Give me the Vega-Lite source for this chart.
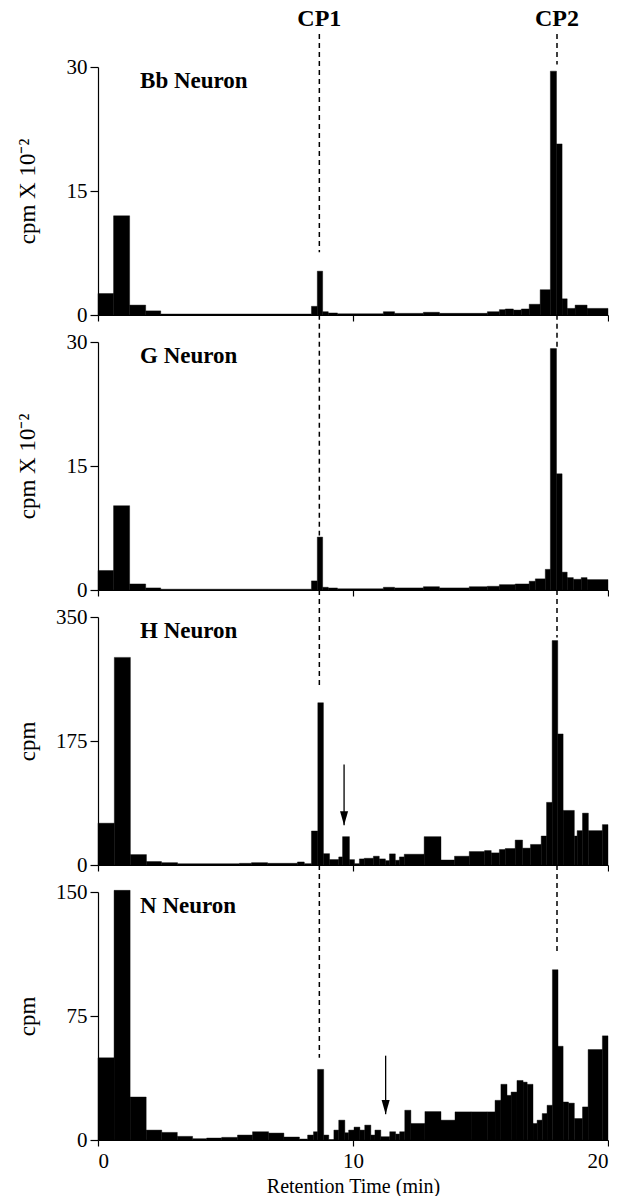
{
  "$schema": "https://vega.github.io/schema/vega-lite/v6.json",
  "background": "white",
  "padding": {"left": 16, "top": 6, "right": 0, "bottom": 0},
  "spacing": 27,
  "bounds": "flush",
  "config": {
    "view": {"stroke": null},
    "font": "Liberation Serif",
    "axis": {
      "grid": false,
      "domainColor": "black",
      "tickColor": "black",
      "labelColor": "black",
      "titleColor": "black",
      "labelFont": "Liberation Serif",
      "titleFont": "Liberation Serif",
      "labelFontSize": 21,
      "titleFontSize": 23,
      "titleFontWeight": "normal",
      "domainWidth": 1.2,
      "tickWidth": 1.2
    }
  },
  "datasets": {
    "bars": [
      {"panel": "Bb", "t0": 0, "t1": 0.61, "v": 2.6},
      {"panel": "Bb", "t0": 0.61, "t1": 1.24, "v": 12.0},
      {"panel": "Bb", "t0": 1.24, "t1": 1.87, "v": 1.2},
      {"panel": "Bb", "t0": 1.87, "t1": 2.46, "v": 0.5},
      {"panel": "Bb", "t0": 2.46, "t1": 8.37, "v": 0.12},
      {"panel": "Bb", "t0": 8.37, "t1": 8.6, "v": 1.05},
      {"panel": "Bb", "t0": 8.6, "t1": 8.81, "v": 5.3},
      {"panel": "Bb", "t0": 8.81, "t1": 9.03, "v": 0.4},
      {"panel": "Bb", "t0": 9.03, "t1": 9.39, "v": 0.25},
      {"panel": "Bb", "t0": 9.39, "t1": 11.19, "v": 0.15},
      {"panel": "Bb", "t0": 11.19, "t1": 11.63, "v": 0.4},
      {"panel": "Bb", "t0": 11.63, "t1": 12.76, "v": 0.2},
      {"panel": "Bb", "t0": 12.76, "t1": 13.39, "v": 0.33},
      {"panel": "Bb", "t0": 13.39, "t1": 15.27, "v": 0.2},
      {"panel": "Bb", "t0": 15.27, "t1": 15.74, "v": 0.4},
      {"panel": "Bb", "t0": 15.74, "t1": 15.97, "v": 0.65},
      {"panel": "Bb", "t0": 15.97, "t1": 16.29, "v": 0.73},
      {"panel": "Bb", "t0": 16.29, "t1": 16.6, "v": 0.6},
      {"panel": "Bb", "t0": 16.6, "t1": 16.91, "v": 0.73},
      {"panel": "Bb", "t0": 16.91, "t1": 17.34, "v": 1.3},
      {"panel": "Bb", "t0": 17.34, "t1": 17.74, "v": 3.06},
      {"panel": "Bb", "t0": 17.74, "t1": 17.98, "v": 29.5},
      {"panel": "Bb", "t0": 17.98, "t1": 18.2, "v": 20.7},
      {"panel": "Bb", "t0": 18.2, "t1": 18.4, "v": 1.96},
      {"panel": "Bb", "t0": 18.4, "t1": 18.71, "v": 0.8},
      {"panel": "Bb", "t0": 18.71, "t1": 19.18, "v": 1.2},
      {"panel": "Bb", "t0": 19.18, "t1": 20, "v": 0.8},

      {"panel": "G", "t0": 0, "t1": 0.61, "v": 2.36},
      {"panel": "G", "t0": 0.61, "t1": 1.24, "v": 10.2},
      {"panel": "G", "t0": 1.24, "t1": 1.87, "v": 0.73},
      {"panel": "G", "t0": 1.87, "t1": 2.46, "v": 0.25},
      {"panel": "G", "t0": 2.46, "t1": 8.37, "v": 0.1},
      {"panel": "G", "t0": 8.37, "t1": 8.6, "v": 1.1},
      {"panel": "G", "t0": 8.6, "t1": 8.81, "v": 6.4},
      {"panel": "G", "t0": 8.81, "t1": 9.03, "v": 0.33},
      {"panel": "G", "t0": 9.03, "t1": 9.39, "v": 0.25},
      {"panel": "G", "t0": 9.39, "t1": 11.19, "v": 0.15},
      {"panel": "G", "t0": 11.19, "t1": 11.63, "v": 0.33},
      {"panel": "G", "t0": 11.63, "t1": 12.76, "v": 0.25},
      {"panel": "G", "t0": 12.76, "t1": 13.39, "v": 0.4},
      {"panel": "G", "t0": 13.39, "t1": 14.56, "v": 0.25},
      {"panel": "G", "t0": 14.56, "t1": 15.27, "v": 0.4},
      {"panel": "G", "t0": 15.27, "t1": 15.74, "v": 0.45},
      {"panel": "G", "t0": 15.74, "t1": 16.36, "v": 0.65},
      {"panel": "G", "t0": 16.36, "t1": 16.91, "v": 0.73},
      {"panel": "G", "t0": 16.91, "t1": 17.15, "v": 1.06},
      {"panel": "G", "t0": 17.15, "t1": 17.54, "v": 1.35},
      {"panel": "G", "t0": 17.54, "t1": 17.74, "v": 2.5},
      {"panel": "G", "t0": 17.74, "t1": 17.98, "v": 29.2},
      {"panel": "G", "t0": 17.98, "t1": 18.2, "v": 14.06},
      {"panel": "G", "t0": 18.2, "t1": 18.4, "v": 2.16},
      {"panel": "G", "t0": 18.4, "t1": 18.64, "v": 1.5},
      {"panel": "G", "t0": 18.64, "t1": 18.95, "v": 1.3},
      {"panel": "G", "t0": 18.95, "t1": 19.18, "v": 1.5},
      {"panel": "G", "t0": 19.18, "t1": 20, "v": 1.26},

      {"panel": "H", "t0": 0, "t1": 0.64, "v": 59},
      {"panel": "H", "t0": 0.64, "t1": 1.27, "v": 293},
      {"panel": "H", "t0": 1.27, "t1": 1.9, "v": 14.7},
      {"panel": "H", "t0": 1.9, "t1": 2.49, "v": 4.8},
      {"panel": "H", "t0": 2.49, "t1": 3.12, "v": 3.3},
      {"panel": "H", "t0": 3.12, "t1": 5.55, "v": 1.9},
      {"panel": "H", "t0": 5.55, "t1": 6.02, "v": 2.4},
      {"panel": "H", "t0": 6.02, "t1": 6.65, "v": 3.3},
      {"panel": "H", "t0": 6.65, "t1": 7.82, "v": 2.4},
      {"panel": "H", "t0": 7.82, "t1": 8.09, "v": 4.3},
      {"panel": "H", "t0": 8.09, "t1": 8.37, "v": 1.9},
      {"panel": "H", "t0": 8.37, "t1": 8.62, "v": 48},
      {"panel": "H", "t0": 8.62, "t1": 8.84, "v": 229},
      {"panel": "H", "t0": 8.84, "t1": 9.08, "v": 16},
      {"panel": "H", "t0": 9.08, "t1": 9.44, "v": 7.6},
      {"panel": "H", "t0": 9.44, "t1": 9.59, "v": 11.4},
      {"panel": "H", "t0": 9.59, "t1": 9.86, "v": 40},
      {"panel": "H", "t0": 9.86, "t1": 10.06, "v": 7.6},
      {"panel": "H", "t0": 10.06, "t1": 10.25, "v": 1.9},
      {"panel": "H", "t0": 10.25, "t1": 10.44, "v": 8.6},
      {"panel": "H", "t0": 10.44, "t1": 10.8, "v": 9.5},
      {"panel": "H", "t0": 10.8, "t1": 11.03, "v": 12.4},
      {"panel": "H", "t0": 11.03, "t1": 11.27, "v": 8.6},
      {"panel": "H", "t0": 11.27, "t1": 11.43, "v": 6.2},
      {"panel": "H", "t0": 11.43, "t1": 11.66, "v": 15.7},
      {"panel": "H", "t0": 11.66, "t1": 11.82, "v": 6.7},
      {"panel": "H", "t0": 11.82, "t1": 12.01, "v": 11.4},
      {"panel": "H", "t0": 12.01, "t1": 12.79, "v": 15.2},
      {"panel": "H", "t0": 12.79, "t1": 13.45, "v": 40},
      {"panel": "H", "t0": 13.45, "t1": 13.98, "v": 7.1},
      {"panel": "H", "t0": 13.98, "t1": 14.56, "v": 12.4},
      {"panel": "H", "t0": 14.56, "t1": 15.16, "v": 19},
      {"panel": "H", "t0": 15.16, "t1": 15.42, "v": 20.4},
      {"panel": "H", "t0": 15.42, "t1": 15.74, "v": 17.1},
      {"panel": "H", "t0": 15.74, "t1": 15.97, "v": 21.9},
      {"panel": "H", "t0": 15.97, "t1": 16.36, "v": 23.3},
      {"panel": "H", "t0": 16.36, "t1": 16.65, "v": 35.2},
      {"panel": "H", "t0": 16.65, "t1": 16.96, "v": 23.8},
      {"panel": "H", "t0": 16.96, "t1": 17.38, "v": 29},
      {"panel": "H", "t0": 17.38, "t1": 17.59, "v": 40.9},
      {"panel": "H", "t0": 17.59, "t1": 17.81, "v": 88.4},
      {"panel": "H", "t0": 17.81, "t1": 18.03, "v": 316.7},
      {"panel": "H", "t0": 18.03, "t1": 18.24, "v": 185},
      {"panel": "H", "t0": 18.24, "t1": 18.68, "v": 77},
      {"panel": "H", "t0": 18.68, "t1": 18.79, "v": 40.9},
      {"panel": "H", "t0": 18.79, "t1": 19.0, "v": 48.5},
      {"panel": "H", "t0": 19.0, "t1": 19.23, "v": 73.2},
      {"panel": "H", "t0": 19.23, "t1": 19.78, "v": 48.5},
      {"panel": "H", "t0": 19.78, "t1": 20, "v": 57},

      {"panel": "N", "t0": 0, "t1": 0.63, "v": 49.7},
      {"panel": "N", "t0": 0.63, "t1": 1.26, "v": 151},
      {"panel": "N", "t0": 1.26, "t1": 1.89, "v": 26},
      {"panel": "N", "t0": 1.89, "t1": 2.5, "v": 6},
      {"panel": "N", "t0": 2.5, "t1": 3.11, "v": 4.6},
      {"panel": "N", "t0": 3.11, "t1": 3.71, "v": 2.2},
      {"panel": "N", "t0": 3.71, "t1": 4.26, "v": 0.8},
      {"panel": "N", "t0": 4.26, "t1": 4.85, "v": 1.2},
      {"panel": "N", "t0": 4.85, "t1": 5.47, "v": 1.6},
      {"panel": "N", "t0": 5.47, "t1": 6.06, "v": 3},
      {"panel": "N", "t0": 6.06, "t1": 6.69, "v": 5},
      {"panel": "N", "t0": 6.69, "t1": 7.29, "v": 4.2},
      {"panel": "N", "t0": 7.29, "t1": 7.9, "v": 1.8},
      {"panel": "N", "t0": 7.9, "t1": 8.22, "v": 0.6},
      {"panel": "N", "t0": 8.22, "t1": 8.45, "v": 3},
      {"panel": "N", "t0": 8.45, "t1": 8.61, "v": 5},
      {"panel": "N", "t0": 8.61, "t1": 8.85, "v": 42.7},
      {"panel": "N", "t0": 8.85, "t1": 9.05, "v": 3},
      {"panel": "N", "t0": 9.05, "t1": 9.25, "v": 0.3},
      {"panel": "N", "t0": 9.25, "t1": 9.44, "v": 6},
      {"panel": "N", "t0": 9.44, "t1": 9.68, "v": 12},
      {"panel": "N", "t0": 9.68, "t1": 9.83, "v": 4.4},
      {"panel": "N", "t0": 9.83, "t1": 10.04, "v": 6},
      {"panel": "N", "t0": 10.04, "t1": 10.27, "v": 7.8},
      {"panel": "N", "t0": 10.27, "t1": 10.46, "v": 6},
      {"panel": "N", "t0": 10.46, "t1": 10.7, "v": 9},
      {"panel": "N", "t0": 10.7, "t1": 10.86, "v": 3},
      {"panel": "N", "t0": 10.86, "t1": 11.09, "v": 6},
      {"panel": "N", "t0": 11.09, "t1": 11.44, "v": 2},
      {"panel": "N", "t0": 11.44, "t1": 11.67, "v": 5},
      {"panel": "N", "t0": 11.67, "t1": 11.83, "v": 3.6},
      {"panel": "N", "t0": 11.83, "t1": 12.03, "v": 5},
      {"panel": "N", "t0": 12.03, "t1": 12.27, "v": 18},
      {"panel": "N", "t0": 12.27, "t1": 12.82, "v": 10},
      {"panel": "N", "t0": 12.82, "t1": 13.45, "v": 17.2},
      {"panel": "N", "t0": 13.45, "t1": 14.0, "v": 12},
      {"panel": "N", "t0": 14.0, "t1": 14.63, "v": 17},
      {"panel": "N", "t0": 14.63, "t1": 15.26, "v": 17},
      {"panel": "N", "t0": 15.26, "t1": 15.57, "v": 17},
      {"panel": "N", "t0": 15.57, "t1": 15.8, "v": 24},
      {"panel": "N", "t0": 15.8, "t1": 16.04, "v": 33.7},
      {"panel": "N", "t0": 16.04, "t1": 16.2, "v": 27},
      {"panel": "N", "t0": 16.2, "t1": 16.43, "v": 29},
      {"panel": "N", "t0": 16.43, "t1": 16.67, "v": 36},
      {"panel": "N", "t0": 16.67, "t1": 16.83, "v": 35},
      {"panel": "N", "t0": 16.83, "t1": 17.06, "v": 33.7},
      {"panel": "N", "t0": 17.06, "t1": 17.22, "v": 10},
      {"panel": "N", "t0": 17.22, "t1": 17.42, "v": 12},
      {"panel": "N", "t0": 17.42, "t1": 17.61, "v": 16},
      {"panel": "N", "t0": 17.61, "t1": 17.82, "v": 21},
      {"panel": "N", "t0": 17.82, "t1": 18.04, "v": 103},
      {"panel": "N", "t0": 18.04, "t1": 18.24, "v": 56.7},
      {"panel": "N", "t0": 18.24, "t1": 18.45, "v": 23},
      {"panel": "N", "t0": 18.45, "t1": 18.68, "v": 22.3},
      {"panel": "N", "t0": 18.68, "t1": 19.0, "v": 13},
      {"panel": "N", "t0": 19.0, "t1": 19.22, "v": 20},
      {"panel": "N", "t0": 19.22, "t1": 19.78, "v": 54.7},
      {"panel": "N", "t0": 19.78, "t1": 20, "v": 63}
    ],
    "cp": [
      {"panel": "Bb", "cp": "CP1", "t": 8.68, "top": 34.0, "bottom": 7.6},
      {"panel": "Bb", "cp": "CP2", "t": 18.0, "top": 34.0, "bottom": 30.3},
      {"panel": "G", "cp": "CP1", "t": 8.68, "top": 33.3, "bottom": 6.6},
      {"panel": "G", "cp": "CP2", "t": 18.0, "top": 33.3, "bottom": 29.4},
      {"panel": "H", "cp": "CP1", "t": 8.68, "top": 388, "bottom": 250},
      {"panel": "H", "cp": "CP2", "t": 18.0, "top": 388, "bottom": 321},
      {"panel": "N", "cp": "CP1", "t": 8.68, "top": 166.4, "bottom": 49.7},
      {"panel": "N", "cp": "CP2", "t": 18.0, "top": 166.4, "bottom": 112}
    ],
    "arrows": [
      {"panel": "H", "t": 9.65, "top": 141.7, "tip": 56},
      {"panel": "N", "t": 11.28, "top": 51, "tip": 15.6}
    ],
    "labels": [
      {"panel": "Bb", "label": "Bb Neuron"},
      {"panel": "G", "label": "G Neuron"},
      {"panel": "H", "label": "H Neuron"},
      {"panel": "N", "label": "N Neuron"}
    ]
  },
  "vconcat": [
    {
      "width": 510, "height": 248,
      "layer": [
        {
          "data": {"name": "bars"},
          "transform": [{"filter": "datum.panel === 'Bb'"}],
          "mark": {"type": "bar", "color": "black", "stroke": "black", "strokeWidth": 0.4},
          "encoding": {
            "x": {"field": "t0", "type": "quantitative", "scale": {"domain": [0, 20], "nice": false},
                  "axis": {"values": [0, 10, 20], "labels": false, "title": null, "tickSize": 6}},
            "x2": {"field": "t1"},
            "y": {"field": "v", "type": "quantitative", "scale": {"domain": [0, 30], "nice": false},
                  "axis": {"values": [0, 15, 30], "title": "cpm X 10⁻²", "tickSize": 8, "labelPadding": 3, "minExtent": 55, "maxExtent": 55, "titlePadding": 4}},
            "y2": {"datum": 0}
          }
        },
        {
          "data": {"name": "cp"},
          "transform": [{"filter": "datum.panel === 'Bb'"}],
          "mark": {"type": "rule", "color": "black", "strokeWidth": 1.5, "strokeDash": [5, 4]},
          "encoding": {"x": {"field": "t", "type": "quantitative"}, "y": {"field": "top", "type": "quantitative"}, "y2": {"field": "bottom"}}
        },
        {
          "data": {"name": "cp"},
          "transform": [{"filter": "datum.panel === 'Bb'"}],
          "mark": {"type": "text", "color": "black", "font": "Liberation Serif", "fontSize": 24, "fontWeight": "bold", "baseline": "alphabetic", "dy": -8},
          "encoding": {"x": {"field": "t", "type": "quantitative"}, "y": {"field": "top", "type": "quantitative"}, "text": {"field": "cp"}}
        },
        {
          "data": {"name": "labels"},
          "transform": [{"filter": "datum.panel === 'Bb'"}],
          "mark": {"type": "text", "align": "left", "baseline": "middle", "font": "Liberation Serif", "fontSize": 23, "fontWeight": "bold", "color": "black"},
          "encoding": {"x": {"datum": 1.65}, "y": {"datum": 28.3}, "text": {"field": "label"}}
        }
      ]
    },
    {
      "width": 510, "height": 248,
      "layer": [
        {
          "data": {"name": "bars"},
          "transform": [{"filter": "datum.panel === 'G'"}],
          "mark": {"type": "bar", "color": "black", "stroke": "black", "strokeWidth": 0.4},
          "encoding": {
            "x": {"field": "t0", "type": "quantitative", "scale": {"domain": [0, 20], "nice": false},
                  "axis": {"values": [0, 10, 20], "labels": false, "title": null, "tickSize": 6}},
            "x2": {"field": "t1"},
            "y": {"field": "v", "type": "quantitative", "scale": {"domain": [0, 30], "nice": false},
                  "axis": {"values": [0, 15, 30], "title": "cpm X 10⁻²", "tickSize": 8, "labelPadding": 3, "minExtent": 55, "maxExtent": 55, "titlePadding": 4}},
            "y2": {"datum": 0}
          }
        },
        {
          "data": {"name": "cp"},
          "transform": [{"filter": "datum.panel === 'G'"}],
          "mark": {"type": "rule", "color": "black", "strokeWidth": 1.5, "strokeDash": [5, 4]},
          "encoding": {"x": {"field": "t", "type": "quantitative"}, "y": {"field": "top", "type": "quantitative"}, "y2": {"field": "bottom"}}
        },
        {
          "data": {"name": "labels"},
          "transform": [{"filter": "datum.panel === 'G'"}],
          "mark": {"type": "text", "align": "left", "baseline": "middle", "font": "Liberation Serif", "fontSize": 23, "fontWeight": "bold", "color": "black"},
          "encoding": {"x": {"datum": 1.65}, "y": {"datum": 28.3}, "text": {"field": "label"}}
        }
      ]
    },
    {
      "width": 510, "height": 248,
      "layer": [
        {
          "data": {"name": "bars"},
          "transform": [{"filter": "datum.panel === 'H'"}],
          "mark": {"type": "bar", "color": "black", "stroke": "black", "strokeWidth": 0.4},
          "encoding": {
            "x": {"field": "t0", "type": "quantitative", "scale": {"domain": [0, 20], "nice": false},
                  "axis": {"values": [0, 10, 20], "labels": false, "title": null, "tickSize": 6}},
            "x2": {"field": "t1"},
            "y": {"field": "v", "type": "quantitative", "scale": {"domain": [0, 350], "nice": false},
                  "axis": {"values": [0, 175, 350], "title": "cpm", "tickSize": 8, "labelPadding": 3, "minExtent": 55, "maxExtent": 55, "titlePadding": 4}},
            "y2": {"datum": 0}
          }
        },
        {
          "data": {"name": "cp"},
          "transform": [{"filter": "datum.panel === 'H'"}],
          "mark": {"type": "rule", "color": "black", "strokeWidth": 1.5, "strokeDash": [5, 4]},
          "encoding": {"x": {"field": "t", "type": "quantitative"}, "y": {"field": "top", "type": "quantitative"}, "y2": {"field": "bottom"}}
        },
        {
          "data": {"name": "arrows"},
          "transform": [{"filter": "datum.panel === 'H'"}],
          "mark": {"type": "rule", "color": "black", "strokeWidth": 1.3},
          "encoding": {"x": {"field": "t", "type": "quantitative"}, "y": {"field": "top", "type": "quantitative"}, "y2": {"field": "tip"}}
        },
        {
          "data": {"name": "arrows"},
          "transform": [{"filter": "datum.panel === 'H'"}],
          "mark": {"type": "point", "shape": "M-0.6,-2.1L0.6,-2.1L0,0Z", "size": 180, "filled": true, "color": "black", "opacity": 1},
          "encoding": {"x": {"field": "t", "type": "quantitative"}, "y": {"field": "tip", "type": "quantitative"}}
        },
        {
          "data": {"name": "labels"},
          "transform": [{"filter": "datum.panel === 'H'"}],
          "mark": {"type": "text", "align": "left", "baseline": "middle", "font": "Liberation Serif", "fontSize": 23, "fontWeight": "bold", "color": "black"},
          "encoding": {"x": {"datum": 1.65}, "y": {"datum": 330}, "text": {"field": "label"}}
        }
      ]
    },
    {
      "width": 510, "height": 248,
      "layer": [
        {
          "data": {"name": "bars"},
          "transform": [{"filter": "datum.panel === 'N'"}],
          "mark": {"type": "bar", "color": "black", "stroke": "black", "strokeWidth": 0.4},
          "encoding": {
            "x": {"field": "t0", "type": "quantitative", "scale": {"domain": [0, 20], "nice": false},
                  "axis": {"values": [0, 10, 20], "title": "Retention Time (min)", "titleFontSize": 20, "labelFontSize": 21, "tickSize": 6, "labelPadding": 4, "titlePadding": 5}},
            "x2": {"field": "t1"},
            "y": {"field": "v", "type": "quantitative", "scale": {"domain": [0, 150], "nice": false},
                  "axis": {"values": [0, 75, 150], "title": "cpm", "tickSize": 8, "labelPadding": 3, "minExtent": 55, "maxExtent": 55, "titlePadding": 4}},
            "y2": {"datum": 0}
          }
        },
        {
          "data": {"name": "cp"},
          "transform": [{"filter": "datum.panel === 'N'"}],
          "mark": {"type": "rule", "color": "black", "strokeWidth": 1.5, "strokeDash": [5, 4]},
          "encoding": {"x": {"field": "t", "type": "quantitative"}, "y": {"field": "top", "type": "quantitative"}, "y2": {"field": "bottom"}}
        },
        {
          "data": {"name": "arrows"},
          "transform": [{"filter": "datum.panel === 'N'"}],
          "mark": {"type": "rule", "color": "black", "strokeWidth": 1.3},
          "encoding": {"x": {"field": "t", "type": "quantitative"}, "y": {"field": "top", "type": "quantitative"}, "y2": {"field": "tip"}}
        },
        {
          "data": {"name": "arrows"},
          "transform": [{"filter": "datum.panel === 'N'"}],
          "mark": {"type": "point", "shape": "M-0.6,-2.1L0.6,-2.1L0,0Z", "size": 180, "filled": true, "color": "black", "opacity": 1},
          "encoding": {"x": {"field": "t", "type": "quantitative"}, "y": {"field": "tip", "type": "quantitative"}}
        },
        {
          "data": {"name": "labels"},
          "transform": [{"filter": "datum.panel === 'N'"}],
          "mark": {"type": "text", "align": "left", "baseline": "middle", "font": "Liberation Serif", "fontSize": 23, "fontWeight": "bold", "color": "black"},
          "encoding": {"x": {"datum": 1.65}, "y": {"datum": 141.5}, "text": {"field": "label"}}
        }
      ]
    }
  ]
}
